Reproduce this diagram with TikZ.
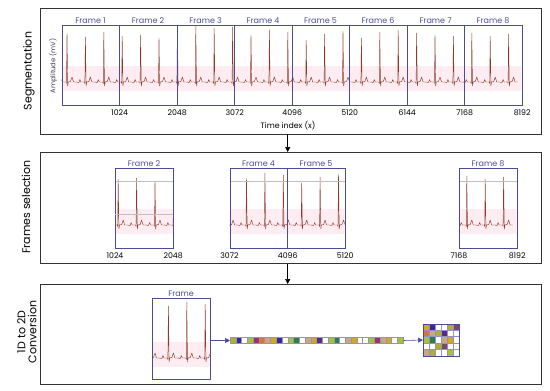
\documentclass[tikz,border=0pt]{standalone}
\usepackage{fontspec}
\setsansfont{Poppins}
\usetikzlibrary{arrows.meta,positioning}

\definecolor{frameblue}{HTML}{4B4B9B}
\definecolor{ecgred}{HTML}{8E3B2C}
\definecolor{ecgpink}{HTML}{FDEDF2}
\definecolor{ol}{HTML}{B0B030}
\definecolor{nv}{HTML}{3B2A8C}
\definecolor{wh}{HTML}{FFFFFF}
\definecolor{li}{HTML}{A6C040}
\definecolor{mg}{HTML}{A03070}
\definecolor{or}{HTML}{D9782A}
\definecolor{tn}{HTML}{C8A882}
\definecolor{gd}{HTML}{D9A520}
\definecolor{pu}{HTML}{5B2A86}
\definecolor{gr}{HTML}{2E7D4F}
\definecolor{mv}{HTML}{7A4A5E}

\tikzset{
  panel/.style={draw=black!80, line width=0.9pt, anchor=north west, inner sep=0pt},
  framebox/.style={draw=frameblue, line width=0.7pt, minimum width=57.5pt,
    minimum height=80pt, anchor=north west, inner sep=0pt},
  framelabel/.style={text=frameblue, font=\sffamily\fontsize{8}{9}\selectfont, inner sep=1.5pt},
  tick/.style={font=\sffamily\fontsize{7.8}{9}\selectfont, inner sep=1.5pt},
  steplabel/.style={font=\sffamily\fontsize{11}{11}\selectfont, rotate=90, align=center},
  ecg/.style={draw=ecgred, line width=0.45pt, line join=round},
  cell/.style={draw=frameblue!60, line width=0.3pt},
  flow/.style={-{Triangle[length=5pt,width=5pt]}, line width=0.6pt},
}

% whole signal, drawn in the coordinates of the top panel
\newcommand\ecgsignal{%
  \fill[ecgpink] (61.5,66) rectangle (521.5,91);
  \foreach \h [count=\k from 0] in {33,37,32,36,35,38,30,26,28,27,35,30,32,40,34,31,38,32,30,33,35,36,33,36,34}{
    \pgfmathsetmacro\c{67+18.4*\k}
    \draw[ecg] (\c-9.2,82) -- (\c-6.5,82.5) -- (\c-5.5,79.5) -- (\c-4.5,82) -- (\c-1,82)
      -- (\c-0.5,83.5) -- (\c,\h) -- (\c+0.7,86) -- (\c+1.3,82) -- (\c+3.5,81.5)
      -- (\c+5,77) -- (\c+6.5,82) -- (\c+9.2,82);
  }
}

\begin{document}
\begin{tikzpicture}[x=1pt,y=-1pt]
  \useasboundingbox (0,0) rectangle (550,391);

  % segmentation
  \node[panel, minimum width=501pt, minimum height=126pt] (seg) at (40,7.5) {};
  \begin{scope}
    \clip (61.5,25) rectangle (521.5,105);
    \ecgsignal
  \end{scope}
  \foreach \i in {1,...,8}
    \node[framebox, label={[framelabel]above:Frame \i}] (s\i) at ({61.5+57.5*(\i-1)},25) {};
  \foreach \i/\v in {1/1024,2/2048,3/3072,4/4096,5/5120,6/6144,7/7168,8/8192}
    \node[tick, below=2pt of s\i.south east] {\v};
  \node[tick] (timeidx) at (288,126) {Time index (x)};
  \node[tick, rotate=90, text=black!75, font=\sffamily\fontsize{6.8}{7}\selectfont] (amp) at (53,66) {Amplitude (mV)};
  \node[steplabel] (seglabel) at (29,71) {Segmentation};

  % frames selection
  \node[panel, minimum width=501pt, minimum height=111pt] (sel) at (40,152) {};
  \foreach \i/\x in {2/115,4/229.5,5/287,8/459}{
    \begin{scope}
      \clip (\x,168) rectangle ++(57.5,80);
      \begin{scope}[shift={({\x-(61.5+57.5*(\i-1))},143)}]
        \ecgsignal
      \end{scope}
    \end{scope}
    \draw[gray!50, line width=0.3pt] (\x,181) -- ++(57.5,0);
    \node[framebox, label={[framelabel]above:Frame \i}] (c\i) at (\x,168) {};
  }
  \draw[gray!50, line width=0.3pt] (115,214) -- ++(57.5,0);
  \node[tick, below=2pt of c2.south west] {1024};
  \node[tick, below=2pt of c2.south east] {2048};
  \node[tick, below=2pt of c4.south west] {3072};
  \node[tick, below=2pt of c4.south east] {4096};
  \node[tick, below=2pt of c5.south east] {5120};
  \node[tick, below=2pt of c8.south west] {7168};
  \node[tick, below=2pt of c8.south east] {8192};
  \node[steplabel] (sellabel) at (26,207) {Frames selection};

  % 1D to 2D conversion
  \node[panel, minimum width=501pt, minimum height=100pt] (conv) at (40,284) {};
  \begin{scope}
    \clip (152,298) rectangle ++(57.5,81);
    \begin{scope}[shift={(-9,276)}]
      \ecgsignal
    \end{scope}
  \end{scope}
  \node[framebox, minimum height=81pt, label={[framelabel]above:Frame}] (one) at (152,298) {};
  \node[draw=frameblue, line width=0.4pt, minimum width=173pt, minimum height=6pt,
    inner sep=0pt, anchor=west] (strip) at (230,340.5) {};
  \foreach \col [count=\n from 0] in {ol,nv,wh,li,mg,or,tn,gd,nv,wh,li,gr,wh,tn,gd,pu,wh,li,gr,wh,tn,gd,wh,wh,li,mg,tn,gd,wh,li}
    \filldraw[cell, fill=\col] ([xshift=\n*5.7667pt]strip.north west) rectangle ++(5.7667,6);
  \node[minimum width=36pt, minimum height=32pt, inner sep=0pt, anchor=west] (grid) at (423,340) {};
  \foreach \col [count=\n from 0] in {gd,nv,wh,wh,ol,mv, or,tn,ol,pu,wh,wh, li,gr,wh,tn,gd,wh, wh,wh,ol,mv,wh,wh, tn,ol,wh,wh,li,wh}{
    \pgfmathtruncatemacro\r{\n/6}
    \pgfmathtruncatemacro\cc{mod(\n,6)}
    \filldraw[cell, fill=\col] ([xshift=\cc*6pt, yshift=-\r*6.4pt]grid.north west) rectangle ++(6,6.4);
  }
  \draw[frameblue, line width=0.4pt] (grid.north west) rectangle (grid.south east);
  \node[steplabel] (convlabel) at (27,332) {1D to 2D\\Conversion};

  % connectors
  \draw[flow, frameblue] (one.east |- strip.west) -- (strip.west);
  \draw[flow, frameblue] (strip.east) -- (grid.west);
  \draw[flow] (seg.south -| c4.east) -- (sel.north -| c4.east);
  \draw[flow] (sel.south -| c4.east) -- (conv.north -| c4.east);
\end{tikzpicture}
\end{document}
